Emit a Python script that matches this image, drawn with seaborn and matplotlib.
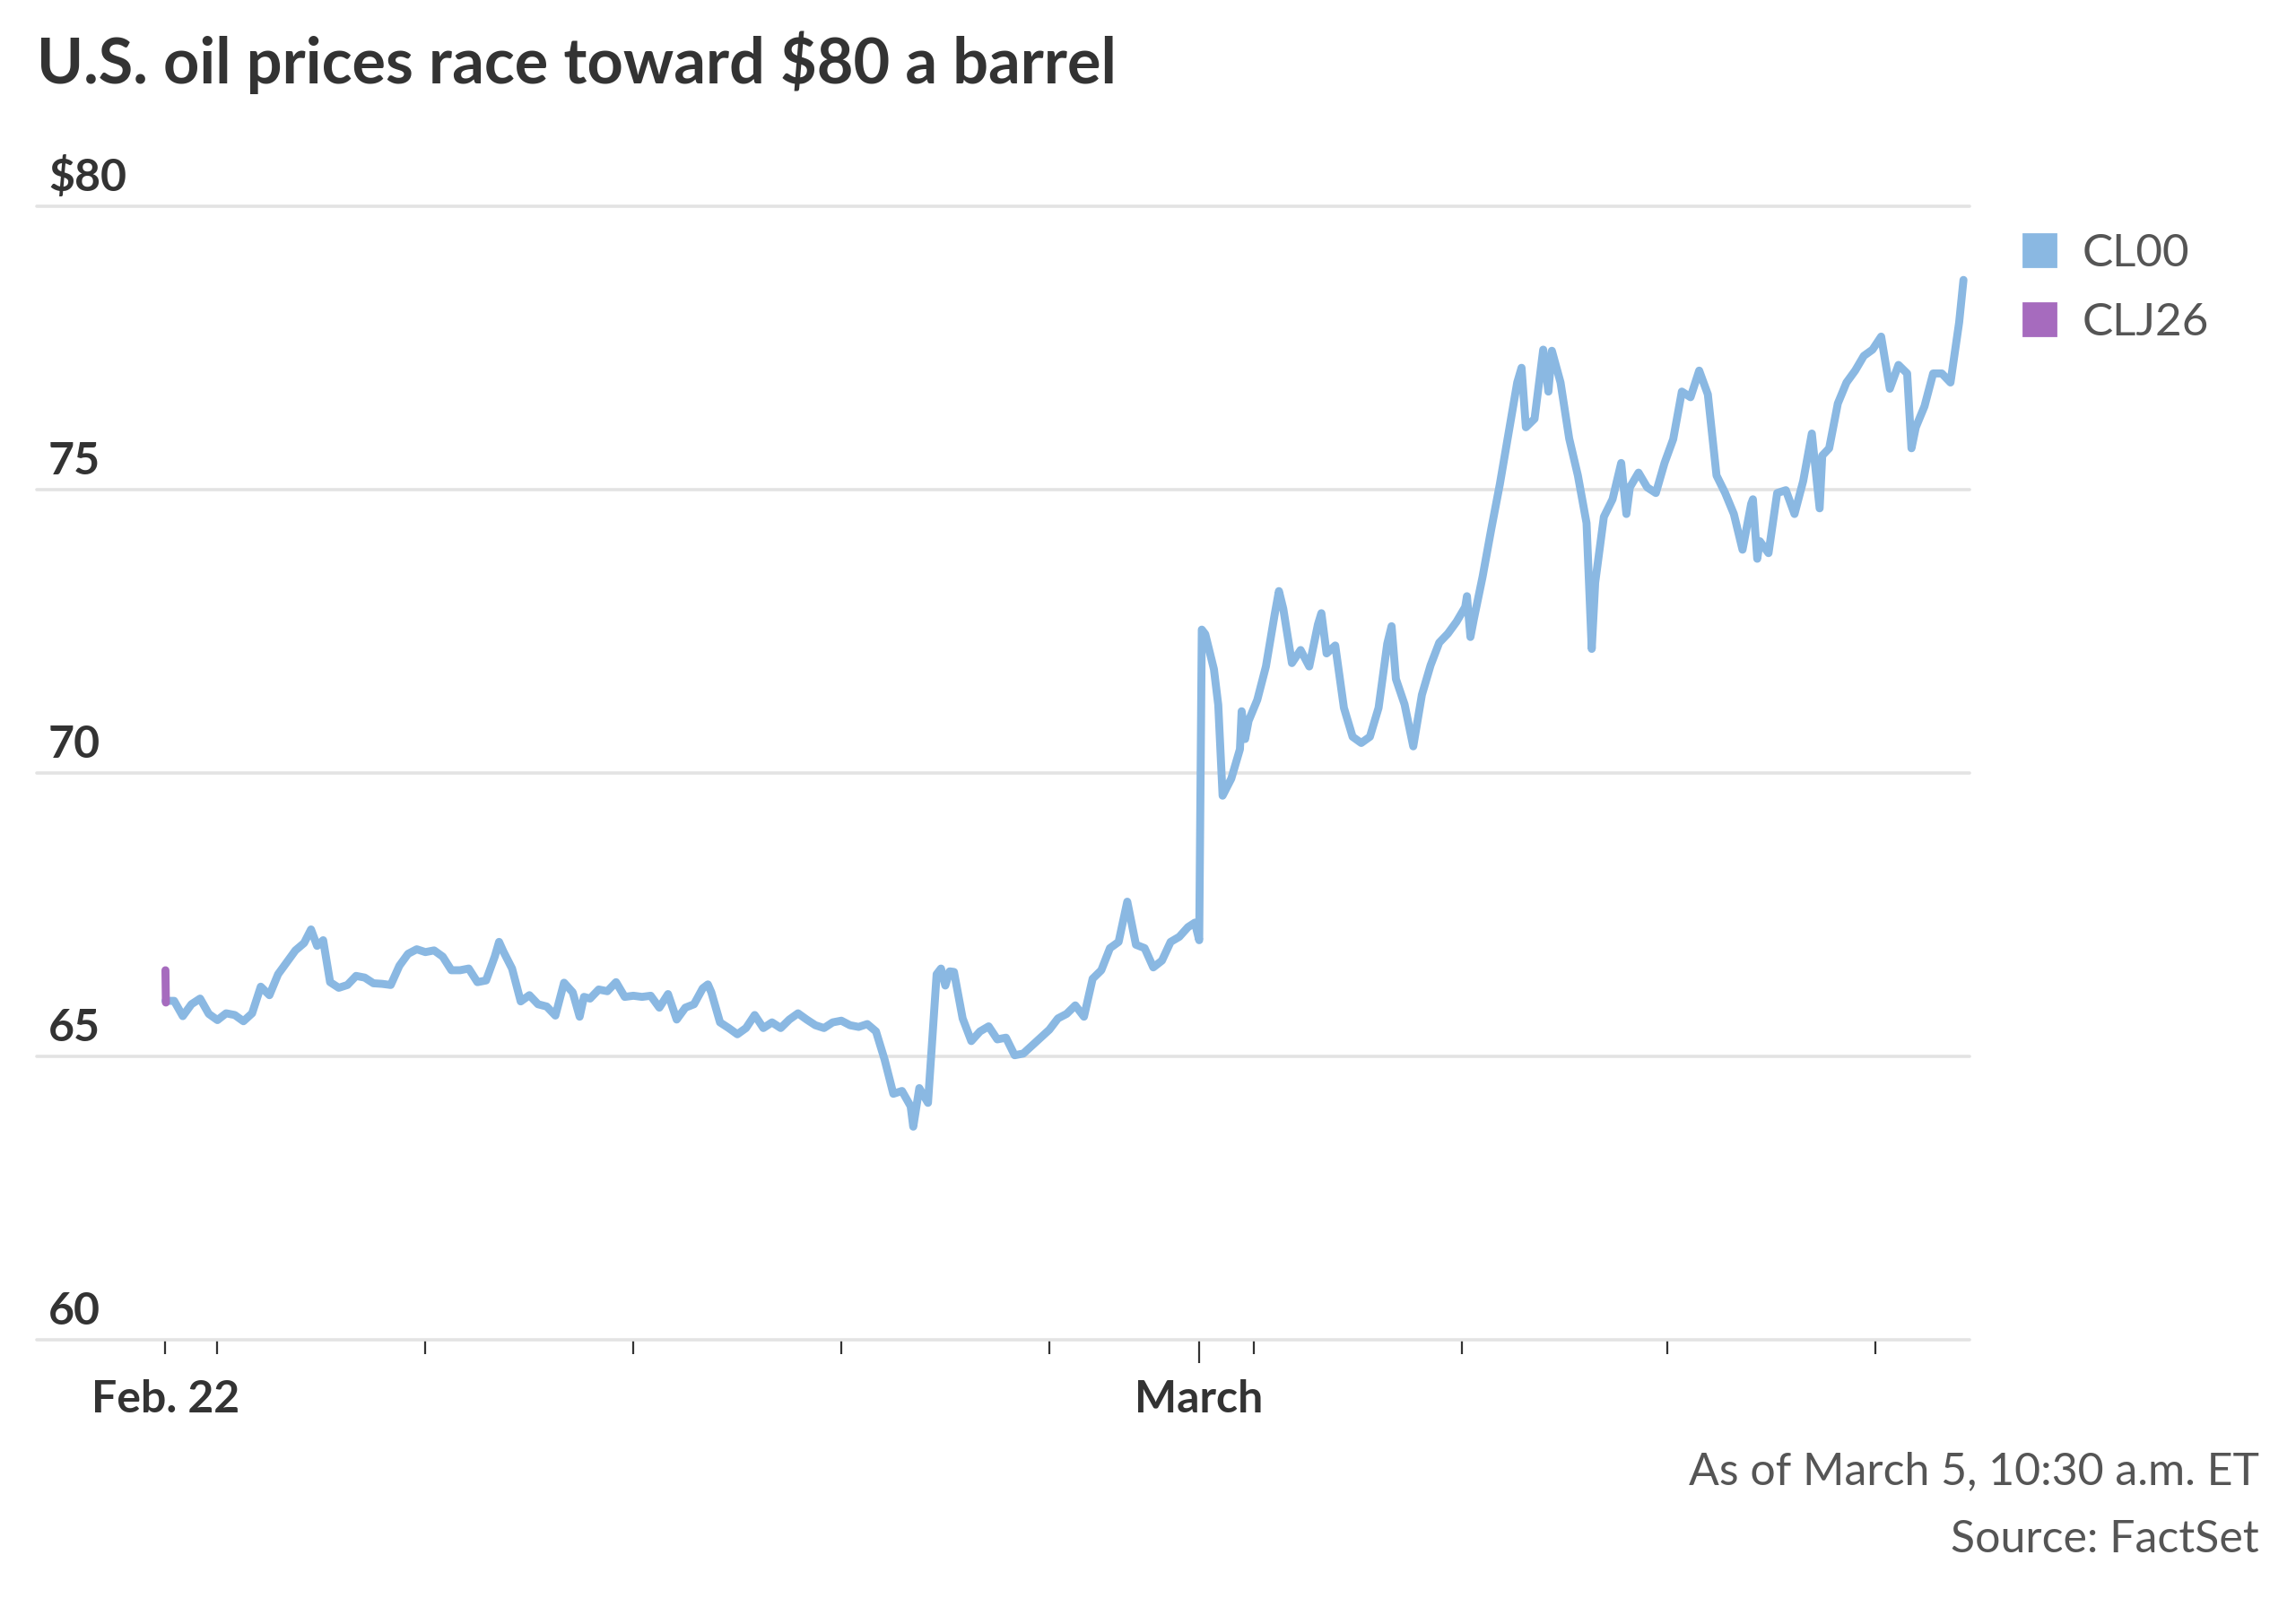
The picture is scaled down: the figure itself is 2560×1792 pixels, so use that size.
import pandas as pd
import numpy as np
import matplotlib
matplotlib.use("Agg")
import matplotlib.pyplot as plt
import seaborn as sns
from matplotlib.lines import Line2D

# ===============================
# Data (hours of trading since Feb. 22, 6 p.m. ET; weekend removed)
# ===============================
cl00_hours = [
    0, 1, 2, 3, 4, 5, 6, 7, 8, 9, 10, 11, 12, 13, 14, 15, 16, 16.8, 17.5, 18.2,
    19, 20, 21, 22, 23, 24, 25, 26, 27, 28, 29, 30, 31, 32, 33, 34, 35, 36, 37, 38,
    38.5, 39, 40, 41, 42, 43, 44, 45, 46, 47, 47.8, 48.3, 49, 50, 51, 52, 53, 54, 55, 56,
    57, 58, 59, 60, 61, 62, 62.6, 63, 64, 65, 66, 67, 68, 69, 70, 71, 72, 73, 74, 75,
    76, 77, 78, 79, 80, 81, 82, 83, 84, 85, 86, 86.3, 87, 88, 89, 89.5, 90, 90.5, 91, 92,
    93, 94, 95, 96, 97, 98, 99, 100, 101, 102, 103, 104, 105, 106, 107, 108, 109, 110, 111, 112,
    113, 114, 115, 116, 117, 118, 118.8, 119.3, 119.6, 120, 121, 121.5, 122, 123, 124, 124.2, 124.6, 125, 126, 127,
    128, 128.5, 129, 130, 131, 132, 133, 133.4, 134, 135, 136, 137, 138, 139, 140, 141, 141.5, 142, 143, 144,
    145, 146, 147, 148, 149, 150, 150.2, 150.6, 151, 152, 153, 154, 155, 156, 156.5, 157, 158, 159, 159.6, 160,
    161, 162, 163, 164, 164.6, 165, 166, 167, 168, 168.6, 169, 170, 171, 172, 173, 174, 175, 176, 177, 178,
    179, 180, 181, 182, 183, 183.2, 183.7, 184, 185, 186, 187, 188, 189, 190, 190.9, 191.2, 192, 193, 194, 195,
    196, 197, 198, 199, 200, 201, 201.5, 202, 203, 204, 205, 206, 207, 207.5,
]
cl00_prices = [
    65.98, 65.98, 65.71, 65.92, 66.02, 65.75, 65.64, 65.76, 65.73, 65.62, 65.76, 66.23, 66.08, 66.45, 66.66, 66.87, 67.00, 67.24, 66.95, 67.05,
    66.31, 66.21, 66.26, 66.42, 66.39, 66.29, 66.28, 66.26, 66.60, 66.81, 66.89, 66.84, 66.87, 66.76, 66.52, 66.52, 66.55, 66.31, 66.34, 66.76,
    67.02, 66.85, 66.55, 65.97, 66.08, 65.92, 65.88, 65.72, 66.30, 66.13, 65.70, 66.05, 66.02, 66.18, 66.15, 66.31, 66.05, 66.07, 66.05, 66.07,
    65.86, 66.10, 65.65, 65.86, 65.92, 66.20, 66.27, 66.13, 65.60, 65.50, 65.39, 65.50, 65.73, 65.50, 65.60, 65.50, 65.65, 65.76, 65.65, 65.55,
    65.50, 65.60, 65.63, 65.55, 65.52, 65.57, 65.44, 64.94, 64.34, 64.39, 64.12, 63.76, 64.44, 64.18, 66.45, 66.55, 66.25, 66.50, 66.49, 65.67,
    65.27, 65.44, 65.53, 65.30, 65.33, 65.02, 65.05, 65.19, 65.33, 65.47, 65.67, 65.75, 65.90, 65.70, 66.37, 66.52, 66.91, 67.02, 67.73, 66.97,
    66.91, 66.57, 66.69, 67.02, 67.11, 67.28, 67.36, 67.05, 72.53, 72.45, 71.83, 71.20, 69.60, 69.90, 70.42, 71.09, 70.60, 70.92, 71.29, 71.88,
    72.79, 73.21, 72.90, 71.94, 72.17, 71.88, 72.62, 72.82, 72.11, 72.25, 71.15, 70.64, 70.53, 70.64, 71.15, 72.28, 72.59, 71.66, 71.21, 70.47,
    71.38, 71.90, 72.30, 72.46, 72.67, 72.93, 73.12, 72.40, 72.72, 73.46, 74.30, 75.10, 75.99, 76.89, 77.15, 76.10, 76.25, 77.47, 76.73, 77.45,
    76.89, 75.90, 75.25, 74.41, 72.19, 73.36, 74.52, 74.83, 75.47, 74.57, 75.04, 75.30, 75.04, 74.94, 75.47, 75.89, 76.73, 76.63, 77.10, 76.68,
    75.25, 74.94, 74.57, 73.94, 74.75, 74.83, 73.78, 74.09, 73.88, 74.94, 74.99, 74.57, 75.15, 75.99, 74.67, 75.60, 75.73, 76.52, 76.89, 77.10,
    77.36, 77.47, 77.70, 76.78, 77.20, 77.05, 75.73, 76.10, 76.47, 77.05, 77.05, 76.89, 77.95, 78.70,
]
clj26_hours = [0, 0.05]
clj26_prices = [66.52, 65.95]

contracts = ["CL00", "CLJ26"]
colors = ["#8ab8e2", "#a66bbe"]

y_ticks = [60, 65, 70, 75, 80]
y_labels = ["60", "65", "70", "75", "\\$80"]

# day boundaries on the trading-hour axis
x_ticks = [0, 6, 30, 54, 78, 102, 119.3, 125.6, 149.6, 173.3, 197.3]
x_labels = ["Feb. 22", "", "", "", "", "", "March", "", "", "", ""]

df = pd.concat([
    pd.DataFrame({"hours": cl00_hours, "price": cl00_prices, "contract": "CL00"}),
    pd.DataFrame({"hours": clj26_hours, "price": clj26_prices, "contract": "CLJ26"}),
], ignore_index=True)

# ===============================
# Style
# ===============================
sns.set_theme(style="white")
plt.rcParams["font.family"] = ["Lato", "DejaVu Sans"]
dark = "#333333"
gray = "#555555"

fig = plt.figure(figsize=(12.8, 8.96), dpi=200)
ax = fig.add_axes([41 / 2560, 298 / 1792, 2155 / 2560, 1264 / 1792])

sns.lineplot(data=df, x="hours", y="price", hue="contract", hue_order=contracts,
             palette=colors, estimator=None, sort=False, linewidth=3.2,
             legend=False, ax=ax)

ax.set_xlim(-14.85, 208.2)
ax.set_ylim(60, 80)
ax.set_yticks(y_ticks)
ax.set_yticklabels([])
ax.tick_params(axis="y", length=0)
ax.grid(axis="y", color="#e3e3e3", linewidth=1.3)
for gl in ax.get_ygridlines():
    gl.set_clip_on(False)
ax.set_axisbelow(True)
for s in ax.spines.values():
    s.set_visible(False)

for v, lab in zip(y_ticks, y_labels):
    ax.text(0.006, v + 0.27, lab, transform=ax.get_yaxis_transform(),
            ha="left", va="baseline", fontsize=18, fontweight="bold", color=dark)

ax.set_xticks(x_ticks)
ax.set_xticklabels(x_labels, fontsize=18, fontweight="bold", color=dark)
ax.tick_params(axis="x", direction="out", length=5.8, width=0.8, color=dark, pad=10,
               bottom=True)
march_tick = ax.xaxis.get_major_ticks()[6]
march_tick.tick1line.set_markersize(9.5)
ax.set_xlabel("")
ax.set_ylabel("")

# legend with square swatches
handles = [Line2D([], [], marker="s", linestyle="", markersize=13, color=c) for c in colors]
leg = ax.legend(handles, contracts, loc="upper left", bbox_to_anchor=(2248 / 2560, 1 - 260 / 1792),
                bbox_transform=fig.transFigure, frameon=False, fontsize=18.4,
                handlelength=1.0, handletextpad=0.45, labelspacing=0.61, borderpad=0,
                borderaxespad=0)
for t in leg.get_texts():
    t.set_color(gray)

# title and notes
fig.text(41 / 2560, 1 - 93 / 1792, "U.S. oil prices race toward \\$80 a barrel",
         ha="left", va="baseline", fontsize=25.3, fontweight="bold", color=dark)
fig.text(2519 / 2560, 1 - 1655 / 1792, "As of March 5, 10:30 a.m. ET",
         ha="right", va="baseline", fontsize=18.0, color=gray)
fig.text(2519 / 2560, 1 - 1731 / 1792, "Source: FactSet",
         ha="right", va="baseline", fontsize=18.0, color=gray)

fig.savefig("out.png", dpi=200)
